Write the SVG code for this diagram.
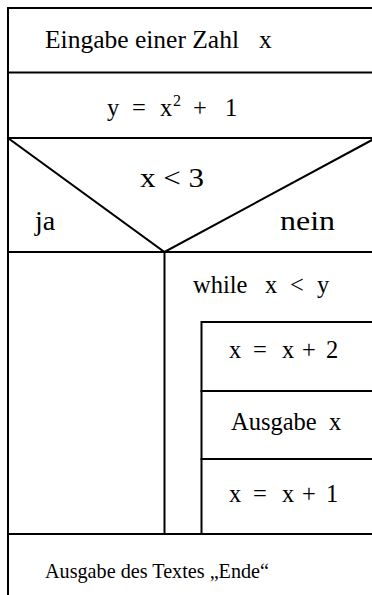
<svg xmlns="http://www.w3.org/2000/svg" width="372" height="595" viewBox="0 0 372 595">
<style>
.ln{stroke:#000;stroke-width:2;fill:none;stroke-linecap:square}
.t{font-family:"Liberation Serif","Times New Roman",serif;font-size:24.5px;fill:#000}
.b{font-size:28px}
.s{font-size:22px}
.e{font-size:25.5px}
</style>
<rect width="372" height="595" fill="#fff"/>
<g id="frame">
<path class="ln" d="M8,8 V595"/>
</g>
<g id="input">
<path class="ln" d="M8,8 H372"/>
<text class="t e" y="48"><tspan x="45">Eingabe einer Zahl</tspan><tspan x="259">x</tspan></text>
</g>
<g id="assign">
<path class="ln" d="M8,72.5 H372"/>
<text class="t" y="116"><tspan x="107">y</tspan><tspan x="132">=</tspan><tspan x="160">x</tspan><tspan x="173" dy="-10" font-size="16">2</tspan><tspan x="193" dy="10">+</tspan><tspan x="225">1</tspan></text>
</g>
<g id="decision">
<path class="ln" d="M8,138 H372 M8,138 L164.5,252 L372,140 M8,252 H372"/>
<text class="t b" x="140" y="187" textLength="64" lengthAdjust="spacingAndGlyphs">x &lt; 3</text>
<text class="t b" x="35" y="230">ja</text>
<text class="t b" x="280" y="230" textLength="55" lengthAdjust="spacingAndGlyphs">nein</text>
</g>
<g id="branch-ja">
<path class="ln" d="M164.5,252 V534"/>
</g>
<g id="loop">
<text class="t" y="293"><tspan x="193">while</tspan><tspan x="265">x</tspan><tspan x="290">&lt;</tspan><tspan x="317">y</tspan></text>
<path class="ln" d="M201.5,322 V534 M201.5,322 H372"/>
</g>
<g id="step1">
<text class="t" y="358"><tspan x="229">x</tspan><tspan x="253">=</tspan><tspan x="282">x</tspan><tspan x="302">+</tspan><tspan x="326">2</tspan></text>
<path class="ln" d="M201.5,391 H372"/>
</g>
<g id="step2">
<text class="t" y="430"><tspan x="231">Ausgabe</tspan><tspan x="329">x</tspan></text>
<path class="ln" d="M201.5,459 H372"/>
</g>
<g id="step3">
<text class="t" y="502"><tspan x="229">x</tspan><tspan x="253">=</tspan><tspan x="282">x</tspan><tspan x="302">+</tspan><tspan x="326">1</tspan></text>
</g>
<g id="output">
<path class="ln" d="M8,534 H372"/>
<text class="t s" x="45" y="578" textLength="224" lengthAdjust="spacingAndGlyphs">Ausgabe des Textes „Ende“</text>
</g>
<g id="connectors"></g>
</svg>
